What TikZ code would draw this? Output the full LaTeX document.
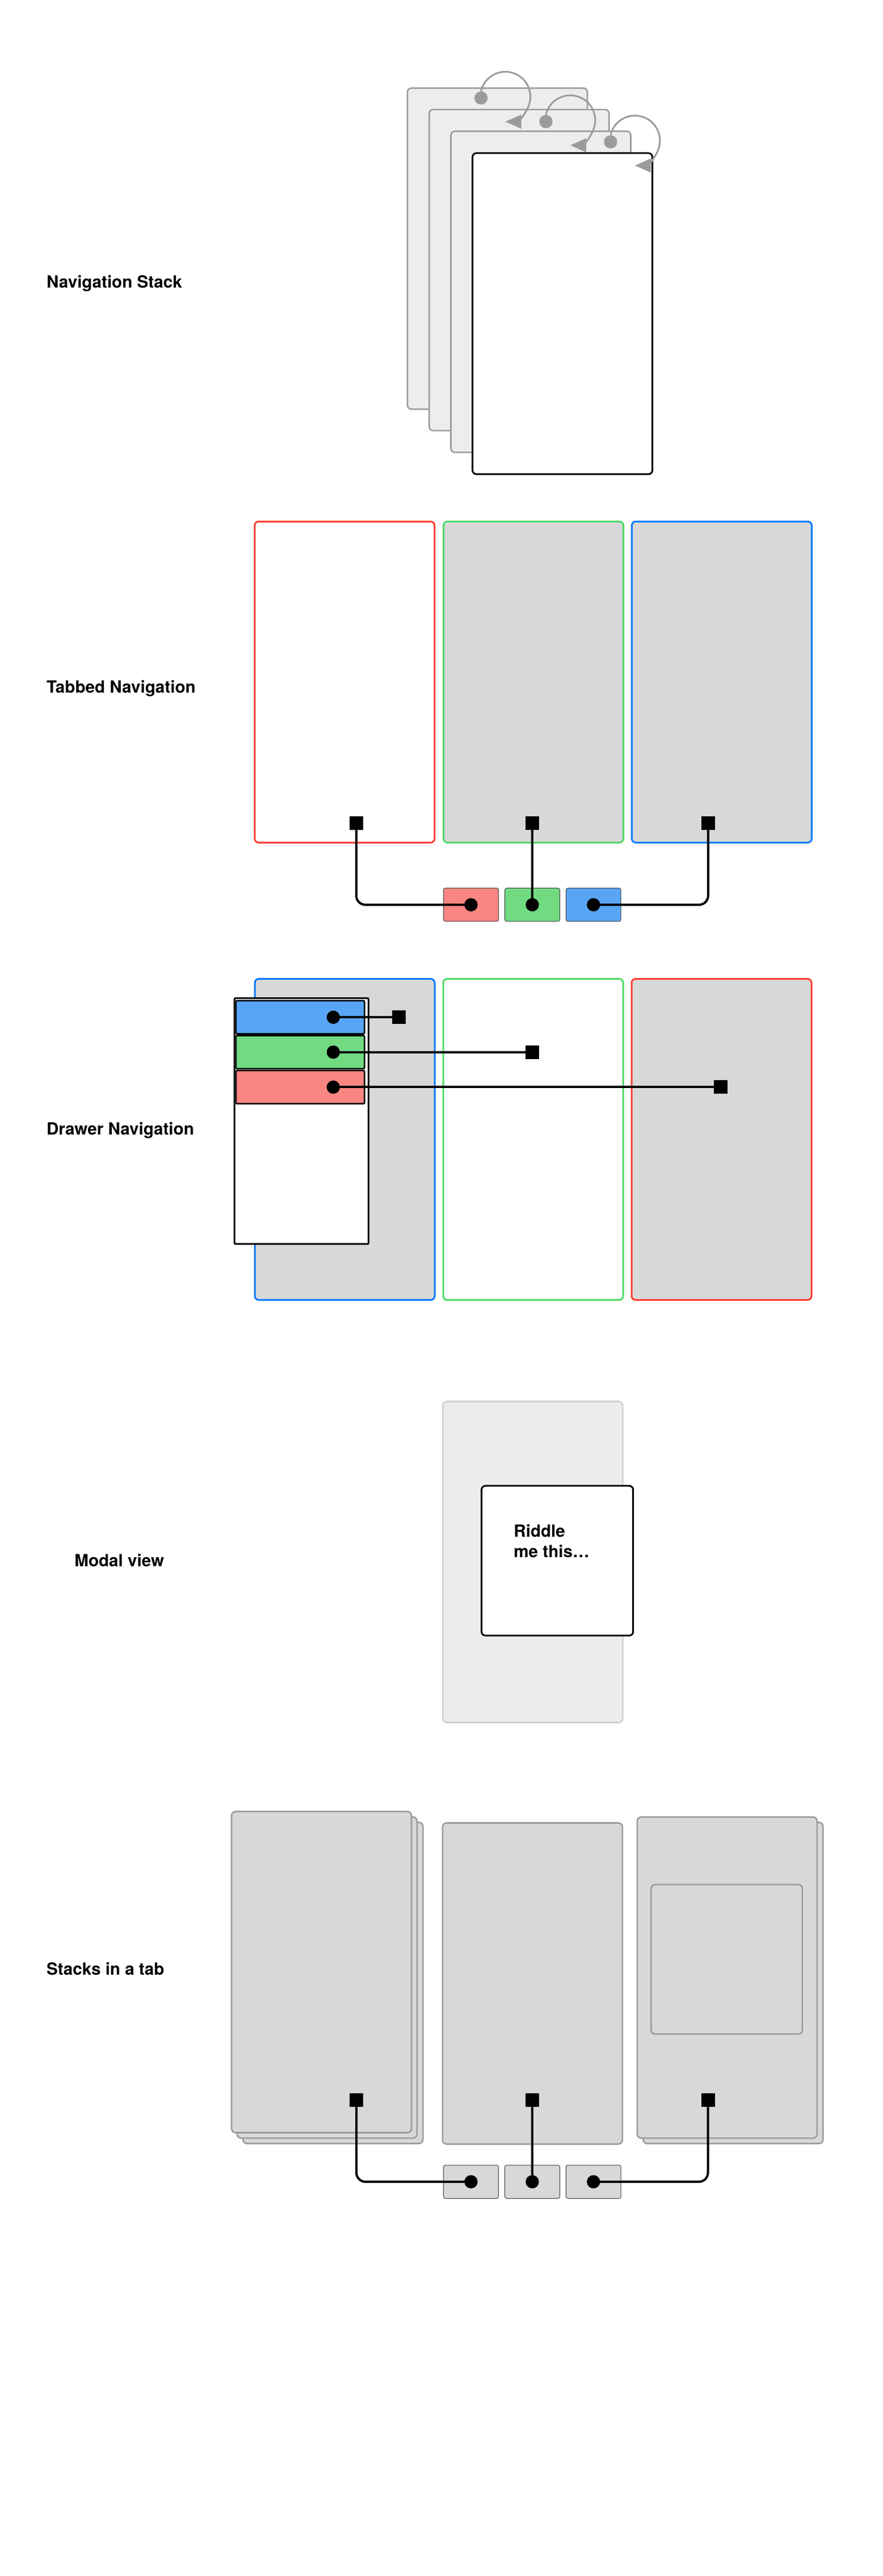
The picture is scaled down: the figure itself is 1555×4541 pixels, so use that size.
\documentclass[tikz,border=0pt]{standalone}
\usepackage{fontspec}
\setmainfont{TeX Gyre Heros}
\usepackage{xcolor}
\usepackage{tikz}
\usetikzlibrary{arrows.meta}
\usetikzlibrary{positioning}
\definecolor{iosred}{HTML}{FF3B30}
\definecolor{iosgreen}{HTML}{4CD964}
\definecolor{iosblue}{HTML}{007AFF}
\definecolor{tabred}{HTML}{F98680}
\definecolor{tabgreen}{HTML}{72DB82}
\definecolor{tabblue}{HTML}{58A5F6}
\definecolor{paneltone}{HTML}{D8D8D8}
\definecolor{edgegray}{HTML}{9B9B9B}
\definecolor{pagetone}{HTML}{EDEDED}
\definecolor{dimtone}{HTML}{ECECEC}
\definecolor{dimedge}{HTML}{D0D0D0}
\tikzset{
    caption/.style={font=\bfseries\fontsize{14.8pt}{18pt}\selectfont, inner sep=0pt, anchor=base west},
    screen/.style={draw=edgegray, fill=paneltone, line width=1.3pt, rounded corners=3.5pt, inner sep=0pt,
        anchor=north west, minimum width=158.5pt, minimum height=283pt},
    pagecard/.style={screen, fill=pagetone},
    topcard/.style={screen, draw=black, fill=white, line width=1.5pt},
    tabscreen/.style={screen, draw=#1, line width=1.5pt},
    tabbutton/.style={draw=black!75, fill=#1, line width=0.5pt, rounded corners=1.5pt,
        minimum width=48.3pt, minimum height=29.2pt, inner sep=0pt},
    menuitem/.style={draw=black, fill=#1, line width=1.3pt, rounded corners=1pt,
        minimum width=113.3pt, minimum height=29.25pt, inner sep=0pt},
    handle/.style={circle, fill=black, minimum size=11.7pt, inner sep=0pt},
    pin/.style={fill=black, minimum width=12pt, minimum height=12pt, inner sep=0pt},
    wire/.style={draw=black, line width=2pt, rounded corners=8pt},
    backdot/.style={circle, fill=edgegray, minimum size=11.7pt, inner sep=0pt},
    backloop/.style={draw=edgegray, line width=1.5pt, -{Triangle[length=14pt,width=12pt]}},
}

\begin{document}
\begin{tikzpicture}[x=0.5pt, y=-0.5pt]
	\useasboundingbox (0,0) rectangle (1555,4541);
	\fill[white] (0,0) rectangle (1555,4541);

	% navigation stack
	\node[caption] (navlabel) at (81.7,507.3) {Navigation Stack};
	\foreach \n/\x/\y in {1/716.7/154, 2/755/191.8, 3/793.2/230.1}
		\node[pagecard] (page\n) at (\x,\y) {};
	\node[topcard] (page4) at (831.1,268.4) {};
	\foreach \n/\x/\y in {1/847.7/172.7, 2/962/214.3, 3/1076/250}{
		\node[backdot] (back\n) at (\x,\y) {};
		\draw[backloop] (back\n.north) arc[start angle=193, end angle=450, radius=44];
	}

	% tabbed navigation
	\node[caption] (tablabel) at (81.7,1221) {Tabbed Navigation};
	\node[tabscreen=iosred, fill=white] (tabview1) at (447.3,917.8) {};
	\node[tabscreen=iosgreen] (tabview2) at (780,917.8) {};
	\node[tabscreen=iosblue] (tabview3) at (1111.9,917.8) {};
	\foreach \n/\x in {1/627.8, 2/937.8, 3/1247.8}
		\node[pin] (tabpin\n) at (\x,1450.8) {};
	\node[tabbutton=tabred] (tab1) at (830,1594.9) {};
	\node[tabbutton=tabgreen] (tab2) at (938,1594.9) {};
	\node[tabbutton=tabblue] (tab3) at (1045.8,1594.9) {};
	\foreach \n in {1,2,3}
		\node[handle] (tabdot\n) at (tab\n.center) {};
	\draw[wire] (tabpin1.center) |- (tabdot1.center);
	\draw[wire] (tabpin2.center) -- (tabdot2.center);
	\draw[wire] (tabdot3.center) -| (tabpin3.center);

	% drawer navigation
	\node[caption] (drawerlabel) at (81.7,2000.3) {Drawer Navigation};
	\node[tabscreen=iosblue] (drawview1) at (447.5,1724) {};
	\node[tabscreen=iosgreen, fill=white] (drawview2) at (779.5,1724) {};
	\node[tabscreen=iosred] (drawview3) at (1111.5,1724) {};
	\node[draw=black, fill=white, line width=1.5pt, rounded corners=1pt, anchor=north west,
		minimum width=118.1pt, minimum height=216.7pt, inner sep=0pt] (drawer) at (411.7,1758) {};
	\foreach \n/\c/\y/\x in {1/tabblue/1793.2/703.3, 2/tabgreen/1854.7/938.3, 3/tabred/1916.4/1270.2}{
		\node[menuitem=\c] (item\n) at (529.1,\y) {};
		\node[handle] (itemdot\n) at ([xshift=29.1pt]item\n.center) {};
		\node[pin] (itempin\n) at (\x,\y) {};
		\draw[wire] (itemdot\n.center) -- (itempin\n.center);
	}

	% modal view
	\node[caption] (modallabel) at (131,2761) {Modal view};
	\node[screen, draw=dimedge, fill=dimtone] (parentview) at (779,2469.2) {};
	\node[topcard, minimum width=133.6pt, minimum height=132pt] (modalview) at (847,2617.7) {};
	\node[caption, align=left] (riddle) at (905,2745) {Riddle\\me this…};

	% stacks in a tab
	\node[caption] (stacklabel) at (81.7,3481.3) {Stacks in a tab};
	\node[screen] (stackA3) at (427,3211.2) {};
	\node[screen] (stackA2) at (416.5,3201.7) {};
	\node[screen] (stackA1) at (406.7,3192.1) {};
	\node[screen] (stackB1) at (778.5,3212.2) {};
	\node[screen] (stackC2) at (1132,3211.2) {};
	\node[screen] (stackC1) at (1121.5,3201.7) {};
	\node[screen, minimum width=133.3pt, minimum height=131.75pt] (sheet) at (1146,3320.8) {};
	\foreach \n/\x in {1/628, 2/937.9, 3/1247.5}
		\node[pin] (stackpin\n) at (\x,3702) {};
	\foreach \n/\x in {1/830, 2/938, 3/1045.8}{
		\node[tabbutton=paneltone] (stacktab\n) at (\x,3846) {};
		\node[handle] (stackdot\n) at (stacktab\n.center) {};
	}
	\draw[wire] (stackpin1.center) |- (stackdot1.center);
	\draw[wire] (stackpin2.center) -- (stackdot2.center);
	\draw[wire] (stackdot3.center) -| (stackpin3.center);
\end{tikzpicture}
\end{document}
